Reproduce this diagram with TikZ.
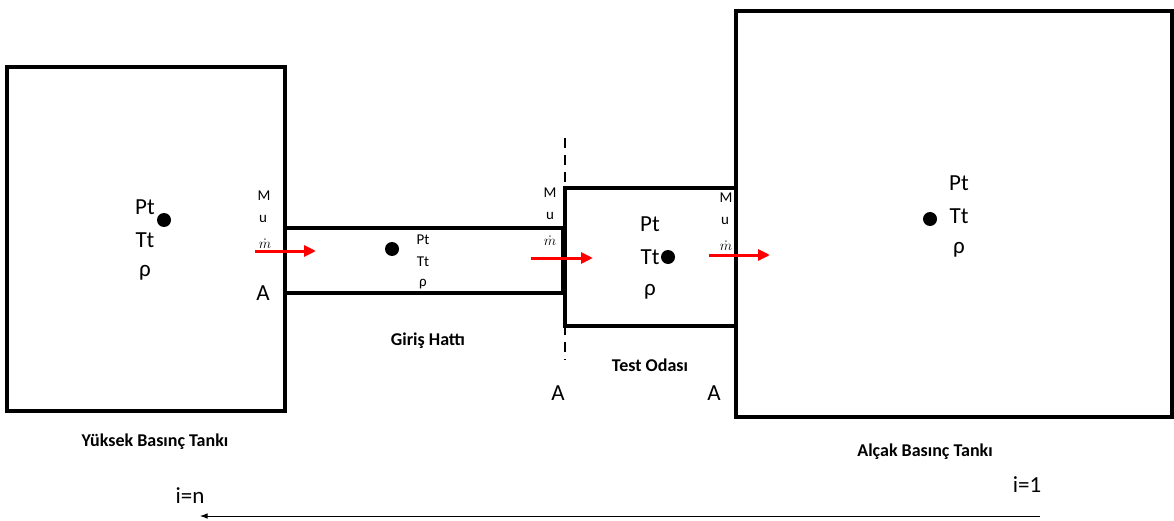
\documentclass[tikz,border=0pt]{standalone}
\usepackage{fontspec}
\setmainfont{Carlito}
\usetikzlibrary{arrows.meta,positioning}

\begin{document}
\begin{tikzpicture}[
  x=1pt, y=-1pt,
  >=Latex,
  wall/.style={draw=black, line width=3.5pt},
  big/.style={font=\fontsize{23}{23}\selectfont, inner sep=0pt},
  small/.style={font=\fontsize{15}{15}\selectfont, inner sep=0pt},
  caption/.style={font=\bfseries\fontsize{18}{18}\selectfont, inner sep=0pt},
  flow/.style={->, draw=red, line width=3pt, >={Triangle[length=12pt, width=11pt]}},
  probe/.style={circle, fill=black, inner sep=0pt, minimum width=12pt, minimum height=14pt}
]
  \useasboundingbox (0,0) rectangle (1174,521);

  % tanks, pipe and test chamber
  \draw[wall] (7,67) rectangle (285,411);
  \draw[wall] (285,228) -- (563,228);
  \draw[wall] (285,293) -- (563,293);
  \draw[wall] (563,228) -- (563,293);
  \draw[wall] (565,188) rectangle (736,326);
  \draw[wall] (736,233) -- (736,11) -- (1172,11) -- (1172,417) -- (736,417) -- (736,273);
  \draw[line width=2pt, dash pattern=on 8pt off 8pt] (736,237) -- (736,273);
  \draw[line width=1.5pt, dash pattern=on 10pt off 7pt] (565,138) -- (565,360);

  % high pressure tank
  \node[big] (hpP) at (145,207) {Pt};
  \node[big] (hpT) at (145,240) {Tt};
  \node[big] (hpR) at (145,273) {ρ};
  \node[probe] (hpDot) at (164,220) {};
  \node[small] (inM) at (264,196) {M};
  \node[small] (inU) at (263,219) {u};
  \node[small] (inMd) at (265,244) {$\dot{m}$};
  \node[big] (inA) at (263,293) {A};

  % inlet line
  \node[probe] (pipeDot) at (392,249) {};
  \node[small] (pipeP) at (423,240) {Pt};
  \node[small] (pipeT) at (423,262) {Tt};
  \node[small] (pipeR) at (423,284) {ρ};
  \node[small] (tcM) at (550,193) {M};
  \node[small] (tcU) at (550,216) {u};
  \node[small] (tcMd) at (550,241) {$\dot{m}$};

  % test chamber
  \node[big] (tcP) at (650,224) {Pt};
  \node[big] (tcT) at (650,257) {Tt};
  \node[big] (tcR) at (650,292) {ρ};
  \node[probe] (tcDot) at (668,257) {};
  \node[small] (outM) at (726,198) {M};
  \node[small] (outU) at (725,221) {u};
  \node[small] (outMd) at (726,246) {$\dot{m}$};

  % low pressure tank
  \node[probe] (lpDot) at (930,219) {};
  \node[big] (lpP) at (959,183) {Pt};
  \node[big] (lpT) at (959,216) {Tt};
  \node[big] (lpR) at (959,250) {ρ};

  % flow arrows
  \coordinate (f1a) at (255,251); \coordinate (f1b) at (316,251);
  \coordinate (f2a) at (531,258); \coordinate (f2b) at (593,258);
  \coordinate (f3a) at (709,255); \coordinate (f3b) at (770,255);
  \draw[flow] (f1a) -- (f1b);
  \draw[flow] (f2a) -- (f2b);
  \draw[flow] (f3a) -- (f3b);

  % section labels
  \node[big] (secA1) at (558,393) {A};
  \node[big] (secA2) at (714,393) {A};
  \node[caption] (lineName) at (428,341) {Giriş Hattı};
  \node[caption] (tcName) at (650,365) {Test Odası};
  \node[caption] (hpName) at (155,442) {Yüksek Basınç Tankı};
  \node[caption] (lpName) at (925,452) {Alçak Basınç Tankı};

  % iteration direction
  \node[big] (iN) at (190,496) {i=n};
  \node[big] (i1) at (1027,485) {i=1};
  \coordinate (itStart) at (1040,516);
  \coordinate (itEnd) at (200,516);
  \draw[->, line width=1pt] (itStart) -- (itEnd);
\end{tikzpicture}
\end{document}
